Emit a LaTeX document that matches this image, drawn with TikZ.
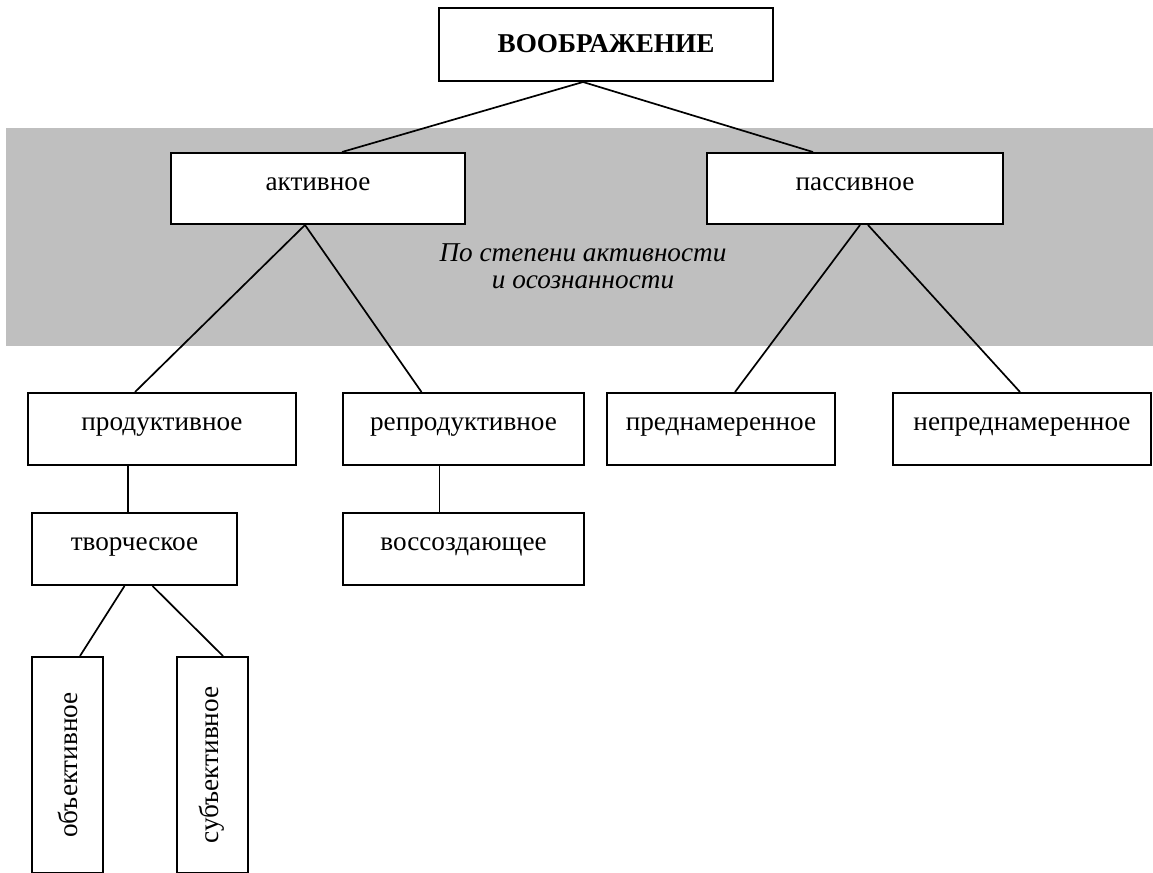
\documentclass[tikz,border=0pt]{standalone}
\usepackage{fontspec}
\setmainfont{Liberation Serif}
\tikzset{
	box/.style={shape=rectangle, draw=black, line width=1pt, fill=white, inner sep=0pt, text height=18.5pt, text depth=17pt},
	vbox/.style={shape=rectangle, draw=black, line width=1pt, fill=white, inner sep=0pt, rotate=90, minimum width=108pt, minimum height=35.5pt},
	link/.style={draw=black, line width=0.85pt}
}
\begin{document}
\begin{tikzpicture}[x=0.5pt, y=-0.5pt, font=\fontsize{13.6}{15}\selectfont]
			\useasboundingbox (0,0) rectangle (1153,873);
			%Grey band:
			\fill[gray!50] (6,128) rectangle (1153,346);
			\path (583,266) node[align=center, font=\fontsize{13.6}{13.5}\selectfont\itshape] (crit) {По степени активности\\и осознанности};
			%Top:
			\path
				(606,44.5) node[box, minimum width=167pt, minimum height=36.5pt, text height=22pt, text depth=14.5pt, font=\fontsize{13.6}{15}\selectfont\bfseries] (vo) {ВООБРАЖЕНИЕ};
			%Second level:
			\path
				(318,188.5) node[box, minimum width=147pt] (akt) {активное}
				(855,188.5) node[box, minimum width=148pt] (pas) {пассивное};
			%Third level:
			\path
				(162,429) node[box, minimum width=134pt, text depth=17.5pt] (prod) {продуктивное}
				(463.5,429) node[box, minimum width=120.5pt, text depth=17.5pt] (rep) {репродуктивное}
				(721,429) node[box, minimum width=114pt, text depth=17.5pt] (pred) {преднамеренное}
				(1022,429) node[box, minimum width=129pt, text depth=17.5pt] (nep) {непреднамеренное};
			%Fourth level:
			\path
				(134.5,549) node[box, minimum width=102.5pt, text depth=17.5pt] (tvor) {творческое}
				(463.5,549) node[box, minimum width=120.5pt, text depth=17.5pt] (vos) {воссоздающее};
			%Vertical boxes:
			\path
				(67.5,765) node[vbox] (obj) {объективное}
				(212,765) node[vbox] (subj) {субъективное};
			%Links:
			\draw[link] ([xshift=-11.5pt]vo.south) -- ([xshift=12pt]akt.north);
			\draw[link] ([xshift=-11.5pt]vo.south) -- ([xshift=-21pt]pas.north);
			\draw[link] ([xshift=-6.5pt]akt.south) -- ([xshift=-13.5pt]prod.north);
			\draw[link] ([xshift=-6.5pt]akt.south) -- ([xshift=-21pt]rep.north);
			\draw[link] ([xshift=2.5pt]pas.south) -- ([xshift=7pt]pred.north);
			\draw[link] ([xshift=6.5pt]pas.south) -- ([xshift=-1pt]nep.north);
			\draw[link] ([xshift=-17pt]prod.south) -- ([xshift=-3.25pt]tvor.north);
			\draw[link] ([xshift=-12pt]rep.south) -- ([xshift=-12pt]vos.north);
			\draw[link] ([xshift=-5pt]tvor.south) -- ([xshift=6.25pt]obj.east);
			\draw[link] ([xshift=9pt]tvor.south) -- ([xshift=5.5pt]subj.east);
\end{tikzpicture}
\end{document}
